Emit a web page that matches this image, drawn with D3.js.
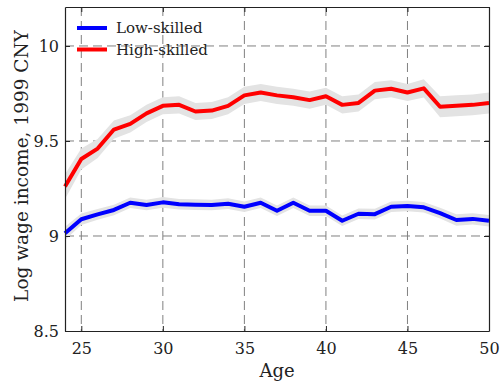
<!DOCTYPE html>
<meta charset="utf-8">
<html>
  <head>
  <title>Log wage income by age</title>
    <style>
      body {
        margin: 0;
        background: #fff;
      }
      svg text {
        font-family: "DejaVu Serif", serif;
        fill: #222;
      }
      .grid line {
        stroke: #808080;
        stroke-width: 1;
        stroke-dasharray: 9,5;
      }
    </style>
  </head>
  <body>
<div id="svgCanvas"></div>

<script src="https://d3js.org/d3.v7.min.js"></script>
<script>

var ages = d3.range(24, 51);

// high-skilled mean log wage
var highSkilled = [9.26, 9.405, 9.46, 9.56, 9.59, 9.645, 9.685, 9.69, 9.655, 9.66,
                   9.685, 9.74, 9.755, 9.74, 9.73, 9.715, 9.735, 9.69, 9.70, 9.765,
                   9.775, 9.755, 9.777, 9.68, 9.685, 9.69, 9.70];
var highBand = [0.065, 0.055, 0.05, 0.048, 0.045, 0.045, 0.045, 0.045, 0.045, 0.045,
                0.045, 0.045, 0.045, 0.045, 0.045, 0.045, 0.045, 0.045, 0.045, 0.045,
                0.045, 0.045, 0.048, 0.055, 0.055, 0.055, 0.055];

var lowSkilled = [9.014, 9.088, 9.114, 9.137, 9.175, 9.163, 9.177, 9.167, 9.165, 9.163,
                  9.17, 9.154, 9.175, 9.133, 9.175, 9.133, 9.133, 9.08, 9.117, 9.115,
                  9.154, 9.158, 9.151, 9.12, 9.084, 9.09, 9.08];
var lowBand = [0.035, 0.03, 0.028, 0.028, 0.028, 0.028, 0.028, 0.028, 0.028, 0.028,
               0.028, 0.028, 0.028, 0.028, 0.028, 0.028, 0.028, 0.028, 0.028, 0.028,
               0.028, 0.028, 0.028, 0.028, 0.03, 0.03, 0.03];

var xTicks = [25, 30, 35, 40, 45, 50];
var yTicks = [8.5, 9, 9.5, 10];

var seriesNames = ["Low-skilled", "High-skilled"];
var colors = ["#0000ff", "#ff0000"];

var serifFont = '"DejaVu Serif", serif';

var width = 500;
var height = 383;
var margin = {top: 7, right: 11, bottom: 52, left: 65};
var w = width - margin.left - margin.right;
var h = height - margin.top - margin.bottom;

var svg = d3.select("#svgCanvas")
    .append("svg")
      .attr("width", width)
      .attr("height", height)
      .attr("font-family", serifFont);

var g = svg.append("g")
    .attr("transform", "translate(" + margin.left + "," + margin.top + ")");

var x = d3.scaleLinear().domain([24, 50]).range([0, w]);
var y = d3.scaleLinear().domain([8.5, 10.205]).range([h, 0]);

// dashed grid
g.append("g")
    .attr("class", "grid")
    .selectAll("line")
    .data([25, 30, 35, 40, 45])
    .enter().append("line")
      .attr("x1", function(d) { return x(d); })
      .attr("x2", function(d) { return x(d); })
      .attr("y1", 0)
      .attr("y2", h);

g.append("g")
    .attr("class", "grid")
    .selectAll("line")
    .data([9, 9.5, 10])
    .enter().append("line")
      .attr("x1", 0)
      .attr("x2", w)
      .attr("y1", function(d) { return y(d); })
      .attr("y2", function(d) { return y(d); });

var series = [
  {name: "Low-skilled", values: lowSkilled, band: lowBand, color: colors[0]},
  {name: "High-skilled", values: highSkilled, band: highBand, color: colors[1]}
];

var area = d3.area()
    .x(function(d) { return x(d.age); })
    .y0(function(d) { return y(d.v - d.b); })
    .y1(function(d) { return y(d.v + d.b); });

var line = d3.line()
    .x(function(d) { return x(d.age); })
    .y(function(d) { return y(d.v); });

var plot = g.append("g");

series.forEach(function(s) {
  var pts = ages.map(function(a, i) {
    return {age: a, v: s.values[i], b: s.band[i]};
  });
  plot.append("path")
      .datum(pts)
      .attr("d", area)
      .style("fill", "#e3e3e3")
      .style("stroke", "none");
  s.pts = pts;
});

series.forEach(function(s) {
  plot.append("path")
      .datum(s.pts)
      .attr("d", line)
      .style("fill", "none")
      .style("stroke", s.color)
      .style("stroke-width", 4)
      .style("stroke-linejoin", "round");
});

// axes with inward ticks
g.append("g")
    .attr("transform", "translate(0," + h + ")")
    .call(d3.axisBottom(x).tickValues(xTicks).tickSizeInner(-5).tickSizeOuter(0).tickPadding(12));
g.append("g")
    .call(d3.axisLeft(y).tickValues(yTicks).tickSizeInner(-5).tickSizeOuter(0).tickPadding(6)
      .tickFormat(function(d) { return d; }));
g.append("g")
    .attr("transform", "translate(" + w + ",0)")
    .call(d3.axisRight(y).tickValues(yTicks).tickSizeInner(-5).tickSizeOuter(0).tickFormat(""));
g.append("g")
    .call(d3.axisTop(x).tickValues(xTicks).tickSizeInner(-5).tickSizeOuter(0).tickFormat(""));

g.selectAll(".domain").style("stroke", "#222").style("stroke-width", 1.2);
g.selectAll(".tick line").style("stroke", "#222");
g.selectAll("g").attr("font-family", serifFont);
g.selectAll(".tick text")
    .style("font-size", "16px")
    .style("font-family", serifFont)
    .style("fill", "#222");

// axis labels
svg.append("text")
    .attr("x", margin.left + w / 2)
    .attr("y", 377)
    .attr("text-anchor", "middle")
    .style("font-size", "18px")
    .text("Age");

svg.append("text")
    .attr("transform", "translate(28," + (margin.top + h / 2 - 3) + ") rotate(-90)")
    .attr("text-anchor", "middle")
    .style("font-size", "18.5px")
    .text("Log wage income, 1999 CNY");

// legend
var legend = svg.append("g")
    .selectAll("g")
    .data(seriesNames)
    .enter().append("g")
      .attr("transform", function(d, i) { return "translate(77," + (28 + i * 21.5) + ")"; });

legend.append("line")
    .attr("x1", 0)
    .attr("x2", 30)
    .style("stroke", function(d, i) { return colors[i]; })
    .style("stroke-width", 4);

legend.append("text")
    .attr("x", 39)
    .attr("y", 5)
    .style("font-size", "15px")
    .text(function(d) { return d; });

</script>
  </body>
</html>
